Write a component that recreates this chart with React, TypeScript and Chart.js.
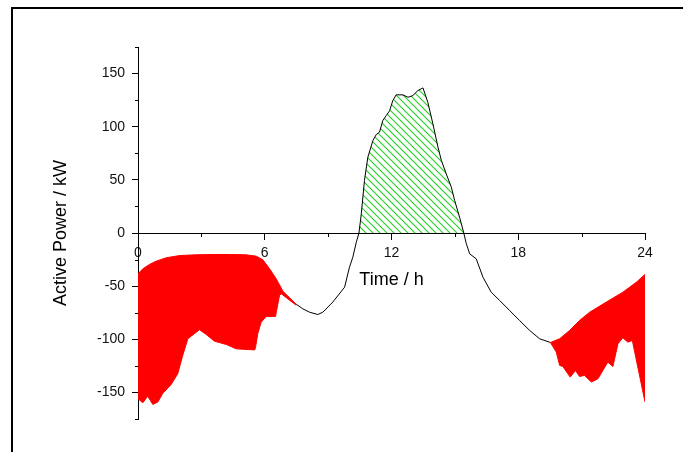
import React, { useEffect, useRef } from 'react';
import { Chart, registerables } from 'chart.js';

Chart.register(...registerables);

// Net active power curve (black line)
const CURVE_HOURS = [
  0, 0.23, 0.54, 0.86, 1.34, 1.97, 2.76, 3.5, 4.33, 5.12, 5.6, 5.91, 6.23, 6.54, 6.86, 7.1, 7.49,
  7.8, 8.12, 8.51, 8.75, 9.22, 9.78, 10.01, 10.17, 10.33, 10.46, 10.57, 10.72, 10.88, 11.12, 11.28,
  11.43, 11.59, 11.75, 11.91, 12.06, 12.22, 12.54, 12.78, 13.01, 13.25, 13.49, 13.72, 13.96, 14.2,
  14.36, 14.59, 14.83, 14.99, 15.22, 15.41, 15.54, 15.7, 16.01, 16.33, 16.72, 17.12, 17.59, 18.06,
  18.54, 19.01, 19.52, 19.96, 20.43, 20.9, 21.38, 22.17, 22.95, 23.59, 24,
];
const CURVE_POWER = [
  -38.4, -33.7, -29.6, -26.5, -23.3, -21.2, -20.5, -20.2, -20.2, -20.5, -21.8, -25.2, -33.7, -43, -54.7, -59.5, -67,
  -71.3, -74.5, -76.7, -74.5, -65, -51, -32.2, -22.7, -9, 0, 18, 49.4, 71.3, 87, 92.7,
  94.8, 105.8, 110.5, 115, 124.5, 130, 130, 127.7, 129.3, 134, 136.5, 123, 102.7, 80.8,
  68.3, 55.7, 43.2, 30.6, 15, 1, -10, -19.6, -24.3, -41.6, -55.7, -63.5, -72.9, -82.3,
  -91.7, -99.5, -103, -99.5, -91.7, -82.3, -74.5, -65, -55.7, -46.3, -39,
];

// Lower boundary of the red band, night / morning
const AM_LOWER_HOURS = [
  0, 0.23, 0.46, 0.7, 0.94, 1.17, 1.57, 1.88, 2.12, 2.36, 2.91, 3.23, 3.62, 4.18, 4.65, 5.52, 5.56,
  5.67, 5.83, 6.07, 6.51, 6.55, 6.7, 6.78, 7.49,
];
const AM_LOWER_POWER = [
  -156, -159.7, -153.5, -161.3, -159, -151, -142.5, -132.5, -115, -99.5, -91, -95.5, -101.8, -104.9, -109, -110, -108,
  -94.8, -83.9, -78.5, -78.5, -74, -58.8, -57.2, -68,
];

// Lower boundary of the red band, evening
const PM_LOWER_HOURS = [
  19.52, 19.8, 19.96, 20.11, 20.46, 20.71, 20.9, 21.14, 21.46, 21.77, 22.24, 22.48, 22.72, 22.95,
  23.19, 23.4, 24,
];
const PM_LOWER_POWER = [
  -103, -112, -124.6, -125.6, -135.6, -129.4, -135, -134, -140.3, -137.2, -121.5, -125.6, -104.2, -98.6,
  -102.7, -101.1, -159,
];

const X_MAJOR_TICKS = [0, 6, 12, 18, 24];
const X_MINOR_TICKS = [3, 9, 15, 21];
const Y_MAJOR_TICKS = [-150, -100, -50, 0, 50, 100, 150];
const Y_MINOR_TICKS = [-175, -125, -75, -25, 25, 75, 125, 175];

const FONT = "'Liberation Sans', Arial, Helvetica, sans-serif";

function makeHatch(): CanvasPattern | string {
  const c = document.createElement('canvas');
  c.width = 7;
  c.height = 7;
  const g = c.getContext('2d');
  if (!g) return 'rgba(0,200,0,0.3)';
  g.strokeStyle = '#22d022';
  g.lineWidth = 1.1;
  g.beginPath();
  g.moveTo(-1, -1);
  g.lineTo(8, 8);
  g.moveTo(-1, 6);
  g.lineTo(1, 8);
  g.moveTo(6, -1);
  g.lineTo(8, 1);
  g.stroke();
  const p = g.createPattern(c, 'repeat');
  return p || 'rgba(0,200,0,0.3)';
}

const minorTicksPlugin = {
  id: 'minorTicks',
  afterDraw(chart: any) {
    const { ctx, chartArea, scales } = chart;
    const xs = scales.x;
    const ys = scales.y;
    const y0 = Math.round(ys.getPixelForValue(0)) + 0.5;
    const xl = Math.round(chartArea.left) + 0.5;
    ctx.save();
    ctx.strokeStyle = '#000';
    ctx.lineWidth = 1;
    ctx.beginPath();
    for (const v of Y_MINOR_TICKS) {
      const py = Math.round(ys.getPixelForValue(v)) + 0.5;
      ctx.moveTo(xl, py);
      ctx.lineTo(xl - 3.5, py);
    }
    for (const v of X_MINOR_TICKS) {
      const px = Math.round(xs.getPixelForValue(v)) + 0.5;
      ctx.moveTo(px, y0);
      ctx.lineTo(px, y0 + 3.5);
    }
    ctx.stroke();
    ctx.restore();
  },
};

export default function App() {
  const ref = useRef<HTMLCanvasElement | null>(null);

  useEffect(() => {
    if (!ref.current) return;
    const amEnd = AM_LOWER_HOURS[AM_LOWER_HOURS.length - 1];
    const pmStart = PM_LOWER_HOURS[0];
    const curve = CURVE_HOURS.map((x, i) => ({ x, y: CURVE_POWER[i] }));
    const amLower = AM_LOWER_HOURS.map((x, i) => ({ x, y: AM_LOWER_POWER[i] }));
    const pmLower = PM_LOWER_HOURS.map((x, i) => ({ x, y: PM_LOWER_POWER[i] }));

    const chart = new Chart(ref.current, {
      type: 'line',
      data: {
        datasets: [
          {
            data: curve,
            borderColor: '#000',
            borderWidth: 1,
            pointRadius: 0,
            order: 2,
            fill: { target: 'origin', above: makeHatch(), below: 'rgba(0,0,0,0)' },
            segment: {
              borderColor: (c: any) =>
                c.p1.parsed.x <= amEnd + 1e-6 || c.p0.parsed.x >= pmStart - 1e-6 ? '#ff0000' : '#000',
            },
          } as any,
          {
            data: amLower,
            borderColor: '#ff0000',
            backgroundColor: '#ff0000',
            borderWidth: 1,
            pointRadius: 0,
            order: 1,
            fill: 0,
          },
          {
            data: pmLower,
            borderColor: '#ff0000',
            backgroundColor: '#ff0000',
            borderWidth: 1,
            pointRadius: 0,
            order: 1,
            fill: 0,
          },
        ],
      },
      options: {
        responsive: false,
        animation: false,
        devicePixelRatio: 1,
        layout: { padding: { left: 50, top: 47, right: 38, bottom: 33 } },
        plugins: { legend: { display: false }, tooltip: { enabled: false } },
        elements: { point: { radius: 0 }, line: { tension: 0 } },
        scales: {
          x: {
            type: 'linear',
            min: 0,
            max: 24,
            position: { y: 0 } as any,
            z: 1,
            afterBuildTicks: (s: any) => {
              s.ticks = X_MAJOR_TICKS.map((v) => ({ value: v }));
            },
            grid: { drawOnChartArea: false, drawTicks: true, tickLength: 6, tickColor: '#000', tickWidth: 1 },
            border: { display: true, color: '#000', width: 1 },
            ticks: { padding: 6, color: '#111', font: { family: FONT, size: 14 }, maxRotation: 0, autoSkip: false },
            title: {
              display: true,
              text: 'Time / h',
              color: '#000',
              font: { family: FONT, size: 18 },
              padding: { top: 1, bottom: 0 },
            },
          },
          y: {
            type: 'linear',
            min: -175,
            max: 175,
            position: 'left',
            z: 1,
            afterBuildTicks: (s: any) => {
              s.ticks = Y_MAJOR_TICKS.map((v) => ({ value: v }));
            },
            afterFit: (s: any) => {
              s.width = 88;
            },
            grid: { drawOnChartArea: false, drawTicks: true, tickLength: 6, tickColor: '#000', tickWidth: 1 },
            border: { display: true, color: '#000', width: 1 },
            ticks: { padding: 7, color: '#111', font: { family: FONT, size: 14 }, autoSkip: false },
            title: {
              display: true,
              text: 'Active Power / kW',
              color: '#000',
              font: { family: FONT, size: 18 },
              padding: { top: 0, bottom: 0 },
            },
          },
        },
      } as any,
      plugins: [minorTicksPlugin],
    });
    return () => chart.destroy();
  }, []);

  return (
    <div
      style={{
        position: 'absolute',
        left: 0,
        top: 0,
        width: 683,
        height: 452,
        overflow: 'hidden',
        background: '#fff',
      }}
    >
      <canvas ref={ref} width={683} height={452} style={{ position: 'absolute', left: 0, top: 0 }} />
      <div
        style={{
          position: 'absolute',
          left: 11,
          top: 7,
          width: 800,
          height: 600,
          borderTop: '2px solid #000',
          borderLeft: '2px solid #000',
          pointerEvents: 'none',
        }}
      />
    </div>
  );
}
